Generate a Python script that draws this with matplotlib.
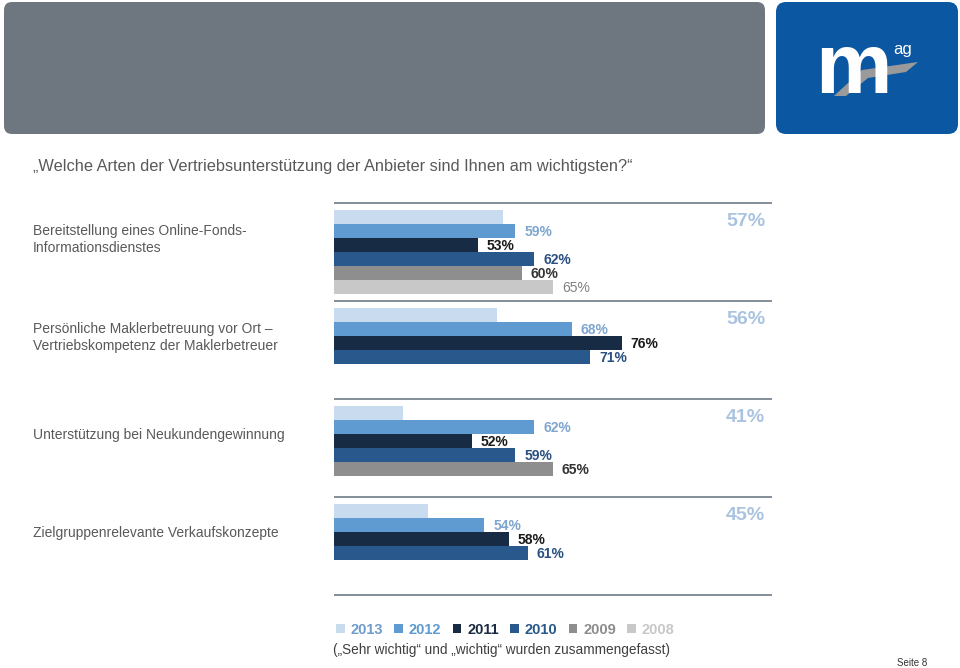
import numpy as np
import matplotlib.pyplot as plt
from matplotlib.patches import FancyBboxPatch, Polygon, Patch

plt.rcParams['font.family'] = ['Liberation Sans', 'DejaVu Sans']

# --- data -------------------------------------------------------------
categories = [
    "Bereitstellung eines Online-Fonds-\nInformationsdienstes",
    "Persönliche Maklerbetreuung vor Ort –\nVertriebskompetenz der Maklerbetreuer",
    "Unterstützung bei Neukundengewinnung",
    "Zielgruppenrelevante Verkaufskonzepte",
]
years = ["2013", "2012", "2011", "2010", "2009", "2008"]
v2013 = [57, 56, 41, 45]
v2012 = [59, 68, 62, 54]
v2011 = [53, 76, 52, 58]
v2010 = [62, 71, 59, 61]
v2009 = [60, None, 65, None]
v2008 = [65, None, None, None]
series = [v2013, v2012, v2011, v2010, v2009, v2008]

bar_colors = ["#c9dcef", "#5f9bd1", "#172b45", "#29598c", "#8e8e8e", "#c8c8c8"]
label_colors = ["#a9c3e0", "#7fa6cf", "#1a1a1a", "#2a5082", "#333333", "#808080"]
legend_colors = ["#6f9ccb", "#5f9bd1", "#1b2b40", "#28578a", "#8c8c8c", "#c8c8c8"]

W, H = 960, 668
fig = plt.figure(figsize=(9.6, 6.68), dpi=100)

# background layer in pixel coordinates
bg = fig.add_axes([0, 0, 1, 1], zorder=0)
bg.set_xlim(0, W)
bg.set_ylim(H, 0)
bg.axis('off')

bg.add_patch(FancyBboxPatch((8, 6), 753, 124, boxstyle="round,pad=4,rounding_size=8",
                            fc="#6e7780", ec="none"))
bg.add_patch(FancyBboxPatch((780, 6), 174, 124, boxstyle="round,pad=4,rounding_size=10",
                            fc="#0b57a1", ec="none"))
bg.add_patch(Polygon([(834, 96), (862, 70), (918, 62), (906, 72), (868, 78), (846, 96)],
                     closed=True, fc="#9a9a9a", ec="none"))
bg.text(853, 93, "m", color="white", fontsize=62, fontweight="bold", ha="center", va="baseline")
bg.text(903, 54, "ag", color="white", fontsize=12, ha="center", va="baseline")

bg.text(33, 167, "„Welche Arten der Vertriebsunterstützung der Anbieter sind Ihnen am wichtigsten?“",
        fontsize=11.8, color="#595959", va="center", ha="left")

bg.text(333, 650, "(„Sehr wichtig“ und „wichtig“ wurden zusammengefasst)",
        fontsize=9.8, color="#404040", va="center", ha="left")
bg.text(927, 663, "Seite 8", fontsize=7, color="#333333", va="center", ha="right")

# --- chart ------------------------------------------------------------
row_px = 14
top_px = 210 - row_px
bot_px = 210 + 28 * row_px
ax = fig.add_axes([334 / W, 1 - bot_px / H, (771.5 - 334) / W, (bot_px - top_px) / H], zorder=1)
ax.patch.set_alpha(0)
ax.set_xlim(30, 100)
ax.set_ylim(28, -1)
ax.axis('off')

group_step = 7
for g in range(len(categories) + 1):
    ax.axhline(g * group_step - 0.5, color="#7a8590", lw=1.3)

for g, cat in enumerate(categories):
    base = g * group_step
    ax.text(-0.688, base + 2.1, cat, transform=ax.get_yaxis_transform(),
            fontsize=10, color="#595959", ha="left", va="center", linespacing=1.25)
    for j, vals in enumerate(series):
        v = vals[g]
        if v is None:
            continue
        y = base + j + 0.5
        ax.barh(y, v, height=1.0, color=bar_colors[j], linewidth=0)
        if j == 0:
            ax.text(99, base + 0.8, f"{v}%", fontsize=14, fontweight="bold",
                    color=label_colors[j], ha="right", va="center", clip_on=False)
        else:
            ax.text(v + 1.45, y + 0.05, f"{v}%", fontsize=10,
                    fontweight="normal" if j == 5 else "bold",
                    color=label_colors[j], ha="left", va="center", clip_on=False)

handles = [Patch(facecolor=c, edgecolor="none") for c in bar_colors]
leg = fig.legend(handles, years, ncol=6, frameon=False, loc="center left",
                 bbox_to_anchor=(336 / W, 1 - 630 / H), fontsize=10.5,
                 handlelength=0.6, handleheight=0.6, handletextpad=0.4,
                 columnspacing=0.77, borderpad=0, borderaxespad=0)
for t, c in zip(leg.get_texts(), legend_colors):
    t.set_color(c)
    t.set_fontweight("bold")

fig.savefig("out.png", dpi=100)
